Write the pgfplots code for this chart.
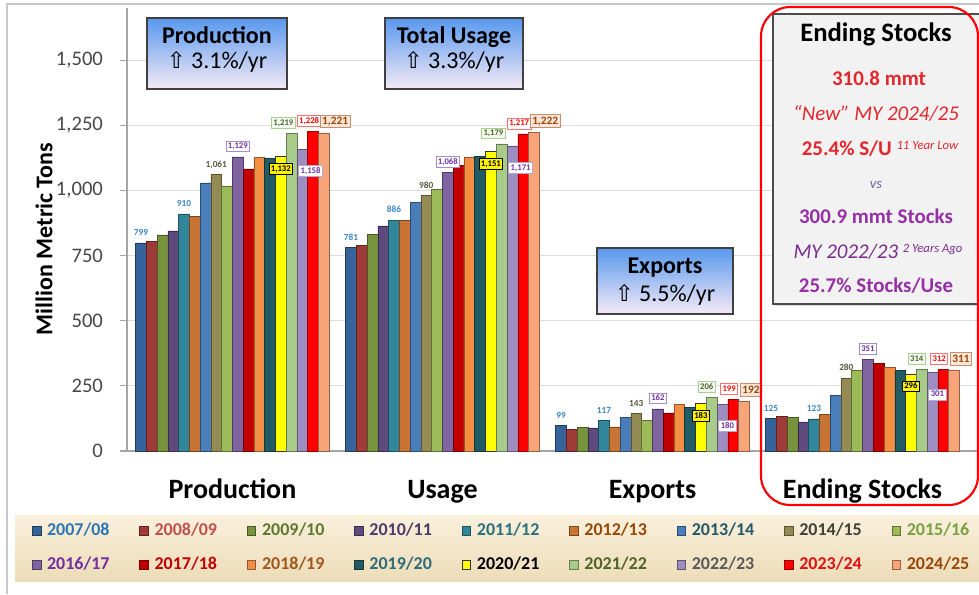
\documentclass[border=0pt]{standalone}
\usepackage{pgfplots}
\pgfplotsset{compat=1.18}
\usepackage{pgfplotstable}
\usepackage{fontspec}
\setmainfont{Carlito}
\newfontfamily\djv{DejaVu Sans}
\usetikzlibrary{shadows}

% bar colours
\definecolor{c1}{HTML}{35639A}
\definecolor{c2}{HTML}{9E3A38}
\definecolor{c3}{HTML}{77933C}
\definecolor{c4}{HTML}{5F4A7E}
\definecolor{c5}{HTML}{31869B}
\definecolor{c6}{HTML}{C87434}
\definecolor{c7}{HTML}{4A7EBB}
\definecolor{c8}{HTML}{948A54}
\definecolor{c9}{HTML}{9BBB59}
\definecolor{c10}{HTML}{8064A2}
\definecolor{c11}{HTML}{C00000}
\definecolor{c12}{HTML}{F28F45}
\definecolor{c13}{HTML}{215B63}
\definecolor{c14}{HTML}{FFFF00}
\definecolor{c15}{HTML}{A9CB8A}
\definecolor{c16}{HTML}{9E8DC0}
\definecolor{c17}{HTML}{FF0000}
\definecolor{c18}{HTML}{F7A479}
% legend text colours
\definecolor{l1}{HTML}{2E75B6}
\definecolor{l2}{HTML}{C0504D}
\definecolor{l3}{HTML}{5E7A2E}
\definecolor{l4}{HTML}{4B3B6B}
\definecolor{l5}{HTML}{2A6F7E}
\definecolor{l6}{HTML}{984807}
\definecolor{l7}{HTML}{24586A}
\definecolor{l8}{HTML}{404035}
\definecolor{l9}{HTML}{77A040}
\definecolor{l10}{HTML}{7030A0}
\definecolor{l11}{HTML}{C00000}
\definecolor{l12}{HTML}{A0581E}
\definecolor{l13}{HTML}{2F6B7A}
\definecolor{l14}{HTML}{000000}
\definecolor{l15}{HTML}{4F6228}
\definecolor{l16}{HTML}{595959}
\definecolor{l17}{HTML}{E01010}
\definecolor{l18}{HTML}{984807}
% label colours
\definecolor{lab1}{HTML}{3A88C8}
\definecolor{lab8}{HTML}{5A5A40}
\definecolor{bx10}{HTML}{A78BD0}
\definecolor{bx15}{HTML}{A9D08E}
\definecolor{fl15}{HTML}{F4FAF0}
\definecolor{bx16}{HTML}{B4A7D6}
\definecolor{bx17}{HTML}{FF7070}
\definecolor{bx18}{HTML}{C09070}
\definecolor{fl18}{HTML}{FCE4D6}
% boxes
\definecolor{boxtop}{RGB}{88,152,238}
\definecolor{boxbot}{RGB}{246,234,246}
\definecolor{legtop}{RGB}{250,240,220}
\definecolor{legbot}{RGB}{236,220,184}
\definecolor{txtred}{HTML}{E3262B}
\definecolor{txtpur}{HTML}{9530A5}
\definecolor{txtpur2}{HTML}{7B2D8E}
\definecolor{txtvs}{HTML}{7060A8}

\pgfplotstableread{
x s1 s2 s3 s4 s5 s6 s7 s8 s9 s10 s11 s12 s13 s14 s15 s16 s17 s18
0 799 803 829 845 910 899 1029 1061 1017 1129 1083 1127 1123 1132 1219 1158 1228 1221
1 781 789 830 864 886 884 954 980 1004 1068 1097 1129 1131 1151 1179 1171 1217 1222
2 99 82 92 89 117 93 128 143 118 162 146 179 167 183 206 180 199 192
3 125 132 128 112 123 142 212 280 308 351 336 322 308 296 314 301 312 311
}\data

\tikzset{
  lplain/.style={font=\fontsize{7}{8}\selectfont\bfseries, inner xsep=1pt, inner ysep=1.2pt, text height=5pt, text depth=1pt, yshift=3pt},
  lbox/.style={font=\fontsize{6.5}{7}\selectfont\bfseries, inner xsep=1.5pt, inner ysep=1.2pt, text height=4.8pt, text depth=1pt, line width=0.5pt},
}
\pgfplotsset{
  sq legend/.style={legend image code/.code={\draw[##1,line width=0.4pt] (0pt,-3.2pt) rectangle (6.4pt,3.2pt);}},
  bars/.style 2 args={ybar, bar width=0.05124, bar shift=#2, fill=#1, draw=#1!60!black, line width=0.4pt, sq legend},
  lab/.style={ybar, bar width=0.05124, bar shift=0, draw=none, fill=none, forget plot, nodes near coords, every node near coord/.append style={#1}},
}

\begin{document}
\begin{tikzpicture}
\path[use as bounding box] (0pt,0pt) rectangle (734.25pt,-445.5pt);
\begin{scope}[x=0.75pt,y=-0.75pt]
\fill[white] (0,0) rectangle (979,594);
\draw[black!22, line width=1.5pt] (7,594) -- (7,4) -- (979,4);
\end{scope}

\begin{axis}[
  at={(95.25pt,-338.25pt)}, anchor=south west,
  scale only axis, width=638.25pt, height=332.25pt,
  xmin=-0.502, xmax=3.55, ymin=0, ymax=1700,
  axis x line*=bottom, axis y line*=left,
  axis line style={-, draw=black!35, line width=0.8pt},
  ytick={0,250,...,1500},
  xtick={0,1,2,3}, xticklabels={Production,Usage,Exports,Ending Stocks},
  major x tick style={draw=none},
  tick align=outside, major tick length=5pt,
  major y tick style={draw=black!35, line width=0.8pt},
  ymajorgrids, grid style={draw=black!14, line width=0.8pt},
  /pgf/number format/1000 sep={,},
  /pgf/number format/assume math mode=true,
  yticklabel style={font=\fontsize{15.5}{18}\selectfont, text=black!72, xshift=-9.5pt},
  xticklabel style={font=\fontsize{21}{24}\selectfont\bfseries, text height=15pt, text depth=4pt, yshift=-11.8pt},
  ylabel={Million Metric Tons},
  every axis y label/.style={at={(axis description cs:-0.0975,0.4786)}, rotate=90, anchor=center, font=\fontsize{18}{20}\selectfont\bfseries},
  legend columns=9, legend cell align=left,
  legend style={at={(axis description cs:-0.1316,-0.1445)}, anchor=north west,
    draw=none, top color=legtop, bottom color=legbot,
    inner xsep=12.75pt, inner ysep=3.75pt, outer sep=0pt,
    font=\fontsize{13.5}{16}\selectfont\bfseries,
    row sep=9pt, column sep=0pt,
    nodes={text width=64.8pt, align=left, inner xsep=4.5pt, inner ysep=2pt, text height=9.5pt, text depth=3pt}},
]
\addplot[bars={c1}{-0.43554}] table[x=x,y=s1]{\data}; \addlegendentry{\textcolor{l1}{2007/08}}
\addplot[bars={c2}{-0.38430}] table[x=x,y=s2]{\data}; \addlegendentry{\textcolor{l2}{2008/09}}
\addplot[bars={c3}{-0.33306}] table[x=x,y=s3]{\data}; \addlegendentry{\textcolor{l3}{2009/10}}
\addplot[bars={c4}{-0.28182}] table[x=x,y=s4]{\data}; \addlegendentry{\textcolor{l4}{2010/11}}
\addplot[bars={c5}{-0.23058}] table[x=x,y=s5]{\data}; \addlegendentry{\textcolor{l5}{2011/12}}
\addplot[bars={c6}{-0.17934}] table[x=x,y=s6]{\data}; \addlegendentry{\textcolor{l6}{2012/13}}
\addplot[bars={c7}{-0.12810}] table[x=x,y=s7]{\data}; \addlegendentry{\textcolor{l7}{2013/14}}
\addplot[bars={c8}{-0.07686}] table[x=x,y=s8]{\data}; \addlegendentry{\textcolor{l8}{2014/15}}
\addplot[bars={c9}{-0.02562}] table[x=x,y=s9]{\data}; \addlegendentry{\textcolor{l9}{2015/16}}
\addplot[bars={c10}{0.02562}] table[x=x,y=s10]{\data}; \addlegendentry{\textcolor{l10}{2016/17}}
\addplot[bars={c11}{0.07686}] table[x=x,y=s11]{\data}; \addlegendentry{\textcolor{l11}{2017/18}}
\addplot[bars={c12}{0.12810}] table[x=x,y=s12]{\data}; \addlegendentry{\textcolor{l12}{2018/19}}
\addplot[bars={c13}{0.17934}] table[x=x,y=s13]{\data}; \addlegendentry{\textcolor{l13}{2019/20}}
\addplot[bars={c14}{0.23058}, draw=black!80] table[x=x,y=s14]{\data}; \addlegendentry{\textcolor{l14}{2020/21}}
\addplot[bars={c15}{0.28182}] table[x=x,y=s15]{\data}; \addlegendentry{\textcolor{l15}{2021/22}}
\addplot[bars={c16}{0.33306}] table[x=x,y=s16]{\data}; \addlegendentry{\textcolor{l16}{2022/23}}
\addplot[bars={c17}{0.38430}] table[x=x,y=s17]{\data}; \addlegendentry{\textcolor{l17}{2023/24}}
\addplot[bars={c18}{0.43554}] table[x=x,y=s18]{\data}; \addlegendentry{\textcolor{l18}{2024/25}}
% value labels (x offsets = bar shift in pt: (i-9.5)*8.071pt)
\addplot[lab={lplain, text=lab1, xshift=-68.6pt}] table[x=x,y=s1]{\data};
\addplot[lab={lplain, text=lab1, xshift=-36.32pt}] table[x=x,y=s5]{\data};
\addplot[lab={lplain, text=lab8, xshift=-12.11pt}] table[x=x,y=s8]{\data};
\addplot[lab={lbox, draw=bx10, fill=white, text=l10, anchor=south, xshift=4.04pt, yshift=3.5pt}] table[x=x,y=s10]{\data};
\addplot[lab={lbox, draw=bx15, fill=fl15, text=l15, anchor=south east, xshift=47.39pt, yshift=3.5pt}] table[x=x,y=s15]{\data};
\addplot[lab={lbox, draw=bx17, fill=white, text=red, anchor=south, xshift=57.53pt, yshift=3.5pt}] table[x=x,y=s17]{\data};
\addplot[lab={lbox, font=\fontsize{8.5}{9}\selectfont\bfseries, text height=6.2pt, draw=bx18, fill=fl18, text=l18, anchor=south west, xshift=65.6pt, yshift=3.5pt}] table[x=x,y=s18]{\data};
\addplot[lab={lbox, draw=bx16, fill=white, text=l10, anchor=north west, xshift=49.46pt, yshift=-12pt}] table[x=x,y=s16]{\data};
\addplot[lab={lbox, draw=black, fill=yellow, text=black, anchor=north, xshift=36.32pt, yshift=-5pt}] table[x=x,y=s14]{\data};
\end{axis}

\begin{scope}[x=0.75pt,y=-0.75pt]
% growth boxes
\path[draw=black!75, line width=1pt, top color=boxtop, bottom color=boxbot] (147,18) rectangle (287,89);
\node[anchor=base, font=\fontsize{18}{20}\selectfont\bfseries] at (217,43) {Production};
\node[anchor=base, font=\fontsize{18}{20}\selectfont] at (217,68) {{\djv\fontsize{17}{18}\selectfont ⇧} 3.1\%/yr};

\path[draw=black!75, line width=1pt, top color=boxtop, bottom color=boxbot] (385,18) rectangle (523,89);
\node[anchor=base, font=\fontsize{18}{20}\selectfont\bfseries] at (454,43) {Total Usage};
\node[anchor=base, font=\fontsize{18}{20}\selectfont] at (454,68) {{\djv\fontsize{17}{18}\selectfont ⇧} 3.3\%/yr};

\path[draw=black!75, line width=1pt, top color=boxtop, bottom color=boxbot] (597,248) rectangle (733,314);
\node[anchor=base, font=\fontsize{18}{20}\selectfont\bfseries] at (665,273) {Exports};
\node[anchor=base, font=\fontsize{18}{20}\selectfont] at (665,301) {{\djv\fontsize{17}{18}\selectfont ⇧} 5.5\%/yr};

% ending stocks box
\path[draw=black!70, line width=1.2pt, fill=black!5, drop shadow={shadow xshift=1.5pt, shadow yshift=-1.5pt, opacity=0.35}] (773,14) rectangle (986,304);
\node[anchor=base, font=\fontsize{20}{22}\selectfont\bfseries] at (876,41) {Ending Stocks};
\node[anchor=base, font=\fontsize{15.7}{18}\selectfont\bfseries, text=txtred] at (879,85) {310.8 mmt};
\node[anchor=base, font=\fontsize{15.7}{18}\selectfont\itshape, text=txtred] at (876,120) {“New” MY 2024/25};
\node[anchor=base, font=\fontsize{15.7}{18}\selectfont\bfseries, text=txtred] at (880,155) {25.4\% S/U \raisebox{4pt}{\fontsize{9.5}{10}\selectfont\mdseries\itshape 11 Year Low}};
\node[anchor=base, font=\fontsize{11}{12}\selectfont\itshape, text=txtvs] at (876,188) {vs};
\node[anchor=base, font=\fontsize{15.7}{18}\selectfont\bfseries, text=txtpur] at (876,223) {300.9 mmt Stocks};
\node[anchor=base, font=\fontsize{15.7}{18}\selectfont\itshape, text=txtpur2] at (878,258) {MY 2022/23 \raisebox{4pt}{\fontsize{9.5}{10}\selectfont 2 Years Ago}};
\node[anchor=base, font=\fontsize{15.7}{18}\selectfont\bfseries, text=txtpur] at (876,292) {25.7\% Stocks/Use};

% red highlight
\draw[red, line width=1.6pt, rounded corners=22pt] (761,7) rectangle (978,505);
\end{scope}
\end{tikzpicture}
\end{document}
